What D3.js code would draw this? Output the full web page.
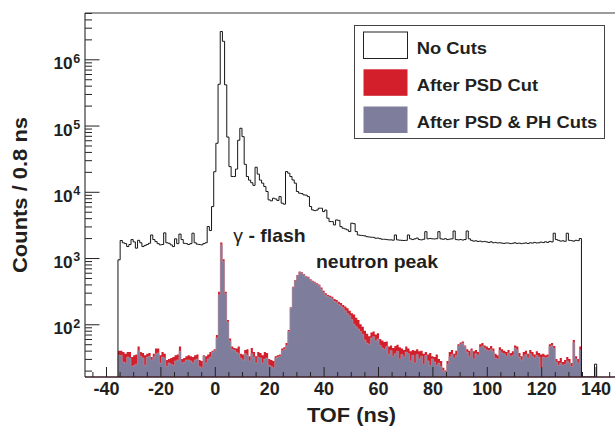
<!DOCTYPE html>
<html><head><meta charset="utf-8">
<script src="https://cdn.jsdelivr.net/npm/d3@7"></script>
<style>
body{margin:0;background:#fff}
svg{display:block}
text{font-family:"Liberation Sans",Arial,Helvetica,sans-serif;font-weight:bold;fill:#231f20}
</style>
</head><body>
<svg id="c" width="615" height="427"></svg>
<script>
// ---- data: TOF histogram, 0.8 ns bins starting at -35.6 ns ----
const binStart = -35.6;
const binWidth = 0.8;

const noCuts = [
  940,1840,1700,1650,1490,1600,1900,1750,1410,1850,
  1700,1490,1550,1600,1670,2230,1900,1770,1650,1580,
  1600,2400,1700,1670,1580,1490,1950,1650,2300,1900,
  1670,1650,1600,1650,2370,1700,1620,1600,1580,1650,
  1700,2990,2600,5980,20100,54000,420000,2630000,1870000,412000,
  67000,24000,17000,17000,22000,60000,91000,68000,26000,17000,
  15000,13700,12500,23500,18500,15000,13500,12000,10100,7550,
  7300,8000,7800,7400,8470,6730,6500,20200,19100,17000,
  15100,13500,10100,9530,9400,8980,8900,8470,6000,5330,
  5200,5300,5650,5650,5020,5300,3990,3550,3550,3160,
  3760,3700,2980,2820,2750,2660,2510,3360,3300,2510,
  2230,2200,2180,2160,2100,2080,2060,2050,1990,2000,
  1960,1920,1920,1900,1880,1880,1860,2230,1880,1860,
  1850,1840,1850,2230,1950,1900,1950,2000,1900,1880,
  1920,2500,1950,1970,1950,1940,1960,2500,1950,1920,
  1960,1900,1930,1950,2560,1900,1880,1900,1870,1900,
  2560,1950,1850,1800,1820,1780,1800,1760,1780,1750,
  1720,1760,1700,1720,1690,1700,1680,1660,1690,1680,
  1650,1670,1700,1660,1680,1650,1670,1690,1660,1700,
  1680,1720,1690,1700,1740,1710,1760,1720,1780,1750,
  2370,1900,1850,1800,1820,1790,2370,1850,1830,1800,
  1850,1830,1970,
  0,0,0,0,0,0,25
];

const psdCut = [
  40,40,38,36,38,38,32,34,35,46,
  38,37,34,36,37,32,36,43,43,34,
  38,36,29,30,31,32,34,35,46,30,
  31,33,34,33,32,34,35,29,28,34,
  33,35,38,40,42,69,311,1710,960,311,
  116,61,46,44,43,46,36,35,41,42,
  33,44,38,33,38,37,34,38,37,30,
  29,28,33,34,35,43,45,52,82,181,
  370,467,556,624,610,575,530,520,480,455,
  440,416,400,360,320,294,277,270,261,240,
  233,219,210,196,185,175,160,147,140,125,
  116,100,92,80,72,66,75,78,70,73,
  60,57,54,55,46,48,44,47,49,45,
  43,41,46,43,39,41,40,42,39,40,
  36,38,35,37,33,32,35,30,28,22,
  20,28,38,41,36,40,50,53,55,48,
  42,40,43,39,41,38,50,52,48,46,
  44,47,43,36,34,45,42,40,38,41,
  37,39,48,46,37,33,38,40,36,41,
  38,35,39,37,35,36,34,35,50,52,
  47,30,28,31,27,29,32,30,26,58,
  33,30,46
];

const psdPhCut = [
  34,34,27,26,32,31,23,24,25,40,
  33,31,24,32,33,29,32,36,37,26,
  32,31,23,26,25,24,28,29,39,26,
  27,29,29,28,26,29,30,23,22,33,
  26,30,32,38,40,62,277,1580,883,290,
  108,56,42,41,38,36,31,29,36,34,
  28,36,32,26,32,31,26,30,31,24,
  23,22,31,32,33,40,42,48,78,176,
  360,455,540,605,590,560,515,505,462,440,
  425,400,385,340,300,276,262,255,245,222,
  215,200,190,178,160,145,135,118,100,92,
  85,78,70,58,52,50,62,65,56,60,
  48,44,42,46,35,40,33,36,39,30,
  35,32,38,36,28,34,26,35,30,33,
  25,34,28,24,30,27,24,26,23,20,
  19,25,32,35,31,34,47,50,52,46,
  38,33,40,30,36,34,45,47,44,41,
  40,42,39,31,30,40,37,36,33,37,
  33,34,44,41,32,29,33,35,31,36,
  33,31,34,32,22,32,31,32,46,48,
  43,27,24,26,24,25,28,26,23,53,
  30,26,41
];

const xTickLabels = [-40,-20,0,20,40,60,80,100,120,140];
const xMinorStep = 5;
const yDecadeExponents = [2,3,4,5,6];
const legendNames = ["No Cuts","After PSD Cut","After PSD & PH Cuts"];
const legendFills = ["#ffffff","#d21f2b","#7e7e9c"];
const annotations = [
  {t:6.8, v:1770, greek:"\u03b3", rest:" - flash"},
  {t:37.2, v:700, greek:"", rest:"neutron peak"}
];

// ---- layout ----
const W = 615, H = 427;
const L = 85, R = 617, T = 13, B = 377;
const svg = d3.select("#c");

const x = d3.scaleLinear().domain([-47.72, 147.87]).range([L, R]);
const y = d3.scaleLog().domain([16, 5e6]).range([B, T]);
const yc = v => y(Math.max(v, y.domain()[0]));

svg.append("defs").append("clipPath").attr("id","clip")
  .append("rect").attr("x",L).attr("y",T).attr("width",R-L).attr("height",B-T);

function stepPts(vals){
  const pts = [];
  vals.forEach((v,i)=>{ const l = binStart + i*binWidth; pts.push([l,v],[l+binWidth,v]); });
  return pts;
}
const area = d3.area().x(d=>x(d[0])).y0(B).y1(d=>yc(d[1]));
const line = d3.line().x(d=>x(d[0])).y(d=>yc(d[1]));

const plot = svg.append("g").attr("clip-path","url(#clip)");
plot.append("path").attr("d", area(stepPts(psdCut))).attr("fill", legendFills[1]);
plot.append("path").attr("d", area(stepPts(psdPhCut))).attr("fill", legendFills[2])
  .attr("stroke","#c79aa8").attr("stroke-width",0.5);
const blackPts = [[binStart,0]].concat(stepPts(noCuts));
blackPts.push([binStart + noCuts.length*binWidth, 0]);
plot.append("path").attr("d", line(blackPts)).attr("fill","none")
  .attr("stroke","#151515").attr("stroke-width",1);

// ---- axes ----
const minorX = d3.range(-45, 146, xMinorStep).filter(v => !xTickLabels.includes(v));
svg.append("g").attr("transform",`translate(0,${B})`)
  .call(d3.axisBottom(x).tickValues(minorX).tickSizeInner(-5).tickSizeOuter(0).tickFormat(""))
  .call(g=>g.select(".domain").remove())
  .selectAll("line").attr("stroke","#222");
const xAx = svg.append("g").attr("transform",`translate(0,${B})`)
  .call(d3.axisBottom(x).tickValues(xTickLabels).tickSizeInner(-10).tickSizeOuter(0)
    .tickPadding(5).tickFormat(d=>String(d)));
xAx.select(".domain").remove();
xAx.selectAll("line").attr("stroke","#222");
xAx.selectAll("text").attr("font-size",18).attr("fill","#231f20")
  .style("font-family",'"Liberation Sans",Arial,sans-serif').style("font-weight","bold");

const majorY = yDecadeExponents.map(e => Math.pow(10,e));
const minorY = y.ticks().filter(v => Math.abs(Math.log10(v) - Math.round(Math.log10(v))) > 1e-6);
svg.append("g").attr("transform",`translate(${L},0)`)
  .call(d3.axisLeft(y).tickValues(minorY).tickSizeInner(-7).tickSizeOuter(0).tickFormat(""))
  .call(g=>g.select(".domain").remove())
  .selectAll("line").attr("stroke","#222");
svg.append("g").attr("transform",`translate(${L},0)`)
  .call(d3.axisLeft(y).tickValues(majorY).tickSizeInner(-14.5).tickSizeOuter(0).tickFormat(""))
  .call(g=>g.select(".domain").remove())
  .selectAll("line").attr("stroke","#222");

yDecadeExponents.forEach(e=>{
  const yy = y(Math.pow(10,e));
  svg.append("text").attr("transform",`translate(72.7,${yy+10}) scale(1.08,1)`)
    .attr("text-anchor","end").attr("font-size",16).text("10");
  svg.append("text").attr("x",73.3).attr("y",yy+3.3).attr("font-size",12.5).text(String(e));
});

// frame
svg.append("line").attr("x1",L).attr("x2",R).attr("y1",T).attr("y2",T).attr("stroke","#3a3a3a").attr("stroke-width",1.2);
svg.append("line").attr("x1",L).attr("x2",L).attr("y1",T).attr("y2",B).attr("stroke","#3a3a3a").attr("stroke-width",1.2);
svg.append("line").attr("x1",L).attr("x2",R).attr("y1",B).attr("y2",B).attr("stroke","#3a1c26").attr("stroke-width",1.6);

// axis titles
svg.append("text").attr("transform",`translate(351.5,421.7) scale(1.09,1)`)
  .attr("text-anchor","middle").attr("font-size",20).text("TOF (ns)");
svg.append("text").attr("transform",`translate(27,195) rotate(-90) scale(1.07,1)`)
  .attr("text-anchor","middle").attr("font-size",20.5).text("Counts / 0.8 ns");

// annotations
annotations.forEach(a=>{
  const t = svg.append("text").attr("transform",`translate(${x(a.t)},${y(a.v)}) scale(1.08,1)`)
    .attr("font-size",18);
  if (a.greek) t.append("tspan").style("font-weight","normal").text(a.greek);
  t.append("tspan").text(a.rest);
});

// legend
const lg = svg.append("g");
lg.append("rect").attr("x",354.5).attr("y",25.5).attr("width",250).attr("height",113)
  .attr("fill","#fff").attr("stroke","#444").attr("stroke-width",1);
const rowY = [32, 69.3, 106.5];
legendNames.forEach((n,i)=>{
  lg.append("rect").attr("x",363.5).attr("y",rowY[i]).attr("width",44).attr("height",26.5)
    .attr("fill",legendFills[i]).attr("stroke", i===0 ? "#222" : "none").attr("stroke-width",1);
  lg.append("text").attr("transform",`translate(416.7,${rowY[i]+21.5}) scale(1.08,1)`)
    .attr("font-size",17).text(n);
});
</script>
</body></html>
